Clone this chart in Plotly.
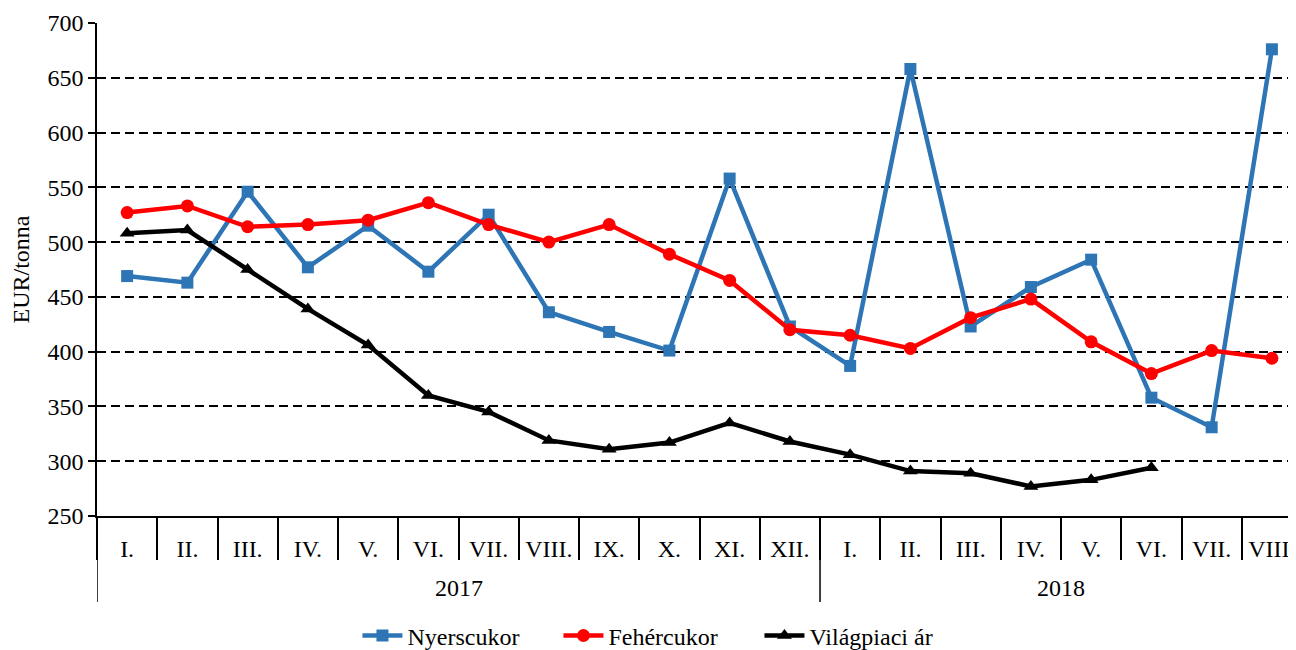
import plotly.graph_objects as go

years = ["2017"] * 12 + ["2018"] * 8
months = ["I.", "II.", "III.", "IV.", "V.", "VI.", "VII.", "VIII.", "IX.", "X.", "XI.", "XII.",
          "I.", "II.", "III.", "IV.", "V.", "VI.", "VII.", "VIII."]

nyerscukor = [469, 463, 546, 477, 515, 473, 525, 436, 418, 401, 558, 423,
              387, 658, 423, 459, 484, 358, 331, 676]
fehercukor = [527, 533, 514, 516, 520, 536, 516, 500, 516, 489, 465, 420,
              415, 403, 431, 448, 409, 380, 401, 394]
vilagpiaci = [508, 511, 475, 439, 406, 360, 345, 319, 311, 317, 335, 318,
              306, 291, 289, 277, 283, 294, None, None]

FONT = "Liberation Serif"
FS = 24
idx = list(range(len(months)))

fig = go.Figure()
fig.add_trace(go.Scatter(x=idx, y=nyerscukor, name="Nyerscukor", mode="lines+markers",
                         line=dict(color="#2E75B6", width=4.5),
                         marker=dict(symbol="square", size=12, color="#2E75B6")))
fig.add_trace(go.Scatter(x=idx, y=fehercukor, name="Fehércukor", mode="lines+markers",
                         line=dict(color="#FF0000", width=4.5),
                         marker=dict(symbol="circle", size=13, color="#FF0000")))
fig.add_trace(go.Scatter(x=idx, y=vilagpiaci, name="Világpiaci ár", mode="lines+markers",
                         line=dict(color="#000000", width=4.5),
                         marker=dict(symbol="triangle-up", size=13, color="#000000")))

# month boundaries
bounds = [i - 0.5 for i in range(len(months) + 1)]

# year groups: label positions and dividers
year_names = []
for y in years:
    if y not in year_names:
        year_names.append(y)
annotations = []
shapes = []
for yn in year_names:
    pos = [i for i, y in enumerate(years) if y == yn]
    annotations.append(dict(x=(pos[0] + pos[-1]) / 2, y=-0.146, xref="x", yref="paper",
                            text=yn, showarrow=False, font=dict(family=FONT, size=FS),
                            xanchor="center", yanchor="middle"))
    shapes.append(dict(type="line", xref="x", yref="paper", x0=pos[0] - 0.5, x1=pos[0] - 0.5,
                       y0=0, y1=-0.1744, line=dict(color="black", width=1.5)))
last = len(years) - 0.5
shapes.append(dict(type="line", xref="x", yref="paper", x0=last, x1=last,
                   y0=0, y1=-0.1744, line=dict(color="black", width=1.5)))

# the page body has an 8px margin, so the figure is 8px smaller and margins are shifted
W, H = 1288, 642
fig.update_layout(
    width=W, height=H,
    paper_bgcolor="white", plot_bgcolor="white",
    margin=dict(l=89, r=0, t=15, b=134),
    font=dict(family=FONT, size=FS, color="black"),
    showlegend=True,
    legend=dict(orientation="h", xref="container", x=0.5054, xanchor="center",
                yref="container", y=0.022, yanchor="middle",
                font=dict(family=FONT, size=FS, color="black"),
                traceorder="normal", itemwidth=40, tracegroupgap=0,
                entrywidth=146, entrywidthmode="pixels"),
    annotations=annotations,
    shapes=shapes,
    xaxis=dict(type="linear", range=[-0.5, 19.4], automargin=False,
               showline=True, linecolor="black", linewidth=2,
               tickmode="array", tickvals=idx, ticktext=months,
               ticks="outside", ticklen=10, tickcolor="rgba(0,0,0,0)",
               minor=dict(tickmode="array", tickvals=bounds, ticks="outside", ticklen=42,
                          tickcolor="black", tickwidth=1.5, showgrid=False),
               tickfont=dict(family=FONT, size=FS), showgrid=False, zeroline=False),
    yaxis=dict(range=[250, 700], dtick=50, tick0=250, automargin=False,
               showline=True, linecolor="black", linewidth=1.5,
               ticks="outside", ticklen=7, tickcolor="black", tickwidth=1.5,
               showgrid=True, gridcolor="black", gridwidth=2, griddash="9px,5px",
               zeroline=False,
               tickfont=dict(family=FONT, size=FS),
               title=dict(text="EUR/tonna", font=dict(family=FONT, size=FS), standoff=14)),
)

fig.write_html("out.html")
